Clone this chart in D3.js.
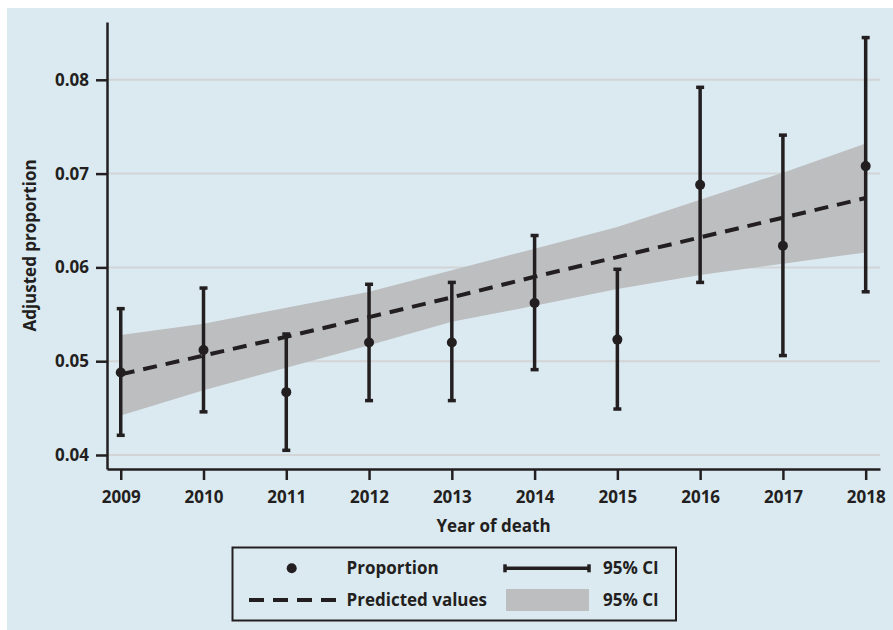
<!DOCTYPE html>
<html>
<head>
<meta charset="utf-8">
<script src="https://cdn.jsdelivr.net/npm/d3@7"></script>
<style>
  html, body { margin: 0; padding: 0; background: #ffffff; }
  svg { display: block; }
  text { font-family: "Open Sans", "Noto Sans", sans-serif; font-weight: 700; fill: #231f20; }
</style>
</head>
<body>
<svg id="chart" width="893" height="630"></svg>
<script>
// Year of death
const years = [2009, 2010, 2011, 2012, 2013, 2014, 2015, 2016, 2017, 2018];
// Adjusted proportion per year with its 95% CI
const proportion = [0.0488, 0.0512, 0.0467, 0.0520, 0.0520, 0.0562, 0.0523, 0.0688, 0.0623, 0.0708];
const ciLower    = [0.0421, 0.0446, 0.0405, 0.0458, 0.0458, 0.0491, 0.0449, 0.0584, 0.0506, 0.0574];
const ciUpper    = [0.0556, 0.0578, 0.0529, 0.0582, 0.0584, 0.0634, 0.0598, 0.0792, 0.0741, 0.0845];
// Fitted trend with its 95% CI band
const predicted  = [0.0486, 0.0506, 0.0526, 0.0547, 0.0568, 0.0590, 0.0611, 0.0632, 0.0653, 0.0674];
const predLower  = [0.0442, 0.0469, 0.0493, 0.0517, 0.0542, 0.0559, 0.0577, 0.0592, 0.0604, 0.0616];
const predUpper  = [0.0528, 0.0540, 0.0557, 0.0574, 0.0597, 0.0620, 0.0643, 0.0672, 0.0701, 0.0732];
// Axis ticks
const yTicks = [0.04, 0.05, 0.06, 0.07, 0.08];
const yTickLabels = ["0.04", "0.05", "0.06", "0.07", "0.08"];
const xTickLabels = ["2009", "2010", "2011", "2012", "2013", "2014", "2015", "2016", "2017", "2018"];

const INK = "#231f20";
const BAND = "#bcbec0";
const GRID = "#d2d4d5";
const PANEL = "#dbeaf1";

const svg = d3.select("#chart");

// panel background
svg.append("rect").attr("x", 7).attr("y", 8).attr("width", 886).attr("height", 622).attr("fill", PANEL);

const plot = { left: 107, right: 880, top: 22, bottom: 469 };

const x = d3.scaleLinear().domain([2008.834, 2018.173]).range([plot.left, plot.right]);
const y = d3.scaleLinear().domain([0.038507, 0.086162]).range([plot.bottom, plot.top]);

// horizontal gridlines
svg.append("g").selectAll("line").data(yTicks).join("line")
  .attr("x1", plot.left).attr("x2", plot.right)
  .attr("y1", d => y(d)).attr("y2", d => y(d))
  .attr("stroke", GRID).attr("stroke-width", 2);

const rows = years.map((yr, i) => ({
  year: yr, p: proportion[i], lo: ciLower[i], hi: ciUpper[i],
  fit: predicted[i], fitLo: predLower[i], fitHi: predUpper[i]
}));

// confidence band of the fitted trend
svg.append("path").datum(rows)
  .attr("fill", BAND)
  .attr("d", d3.area().x(d => x(d.year)).y0(d => y(d.fitLo)).y1(d => y(d.fitHi)));

// fitted trend line
svg.append("path").datum(rows)
  .attr("fill", "none").attr("stroke", INK).attr("stroke-width", 4)
  .attr("stroke-dasharray", "14,9")
  .attr("d", d3.line().x(d => x(d.year)).y(d => y(d.fit)));

// error bars
const bars = svg.append("g");
bars.selectAll("line").data(rows).join("line")
  .attr("x1", d => x(d.year)).attr("x2", d => x(d.year))
  .attr("y1", d => y(d.lo)).attr("y2", d => y(d.hi))
  .attr("stroke", INK).attr("stroke-width", 3.5);
const caps = rows.flatMap(d => [{ year: d.year, v: d.lo }, { year: d.year, v: d.hi }]);
bars.selectAll("rect").data(caps).join("rect")
  .attr("x", d => x(d.year) - 4).attr("y", d => y(d.v) - 1.75)
  .attr("width", 8).attr("height", 3.5).attr("fill", INK);

// point estimates
svg.append("g").selectAll("circle").data(rows).join("circle")
  .attr("cx", d => x(d.year)).attr("cy", d => y(d.p)).attr("r", 5).attr("fill", INK);

// axes
const yAxis = d3.axisLeft(y).tickValues(yTicks).tickFormat((d, i) => yTickLabels[i])
  .tickSize(11).tickSizeOuter(0).tickPadding(7);
const gy = svg.append("g").attr("transform", `translate(${plot.left},0)`).call(yAxis);
const xAxis = d3.axisBottom(x).tickValues(years).tickFormat((d, i) => xTickLabels[i])
  .tickSize(11).tickSizeOuter(0).tickPadding(11);
const gx = svg.append("g").attr("transform", `translate(0,${plot.bottom})`).call(xAxis);

[gy, gx].forEach(g => {
  g.select(".domain").attr("stroke", INK).attr("stroke-width", 2.5);
  g.selectAll(".tick line").attr("stroke", INK).attr("stroke-width", 2.5);
  g.selectAll(".tick text").attr("font-size", 17).attr("font-family", null).attr("fill", INK);
});

// axis titles
svg.append("text")
  .attr("transform", `translate(35.5,${(plot.top + plot.bottom) / 2}) rotate(-90)`)
  .attr("text-anchor", "middle").attr("font-size", 17)
  .text("Adjusted proportion");
svg.append("text")
  .attr("x", (plot.left + plot.right) / 2).attr("y", 531.5)
  .attr("text-anchor", "middle").attr("font-size", 17)
  .text("Year of death");

// legend
const lg = svg.append("g");
lg.append("rect").attr("x", 232.5).attr("y", 547.5).attr("width", 443.5).attr("height", 73)
  .attr("fill", "none").attr("stroke", INK).attr("stroke-width", 2);

const row1 = 568.3, row2 = 600;
lg.append("circle").attr("cx", 291.7).attr("cy", row1).attr("r", 5).attr("fill", INK);
lg.append("text").attr("x", 346.5).attr("y", row1 + 6).attr("font-size", 17).text("Proportion");

lg.append("line").attr("x1", 505).attr("x2", 589).attr("y1", row1).attr("y2", row1)
  .attr("stroke", INK).attr("stroke-width", 3.5);
[505, 589].forEach(cx => lg.append("rect").attr("x", cx - 1.75).attr("y", row1 - 4)
  .attr("width", 3.5).attr("height", 8).attr("fill", INK));
lg.append("text").attr("x", 603).attr("y", row1 + 6).attr("font-size", 17).text("95% CI");

lg.append("line").attr("x1", 249).attr("x2", 336).attr("y1", row2).attr("y2", row2)
  .attr("stroke", INK).attr("stroke-width", 4).attr("stroke-dasharray", "15,9");
lg.append("text").attr("x", 346.5).attr("y", row2 + 5.7).attr("font-size", 17).text("Predicted values");

lg.append("rect").attr("x", 506).attr("y", 589).attr("width", 83).attr("height", 22).attr("fill", BAND);
lg.append("text").attr("x", 603).attr("y", row2 + 5.7).attr("font-size", 17).text("95% CI");
</script>
</body>
</html>
